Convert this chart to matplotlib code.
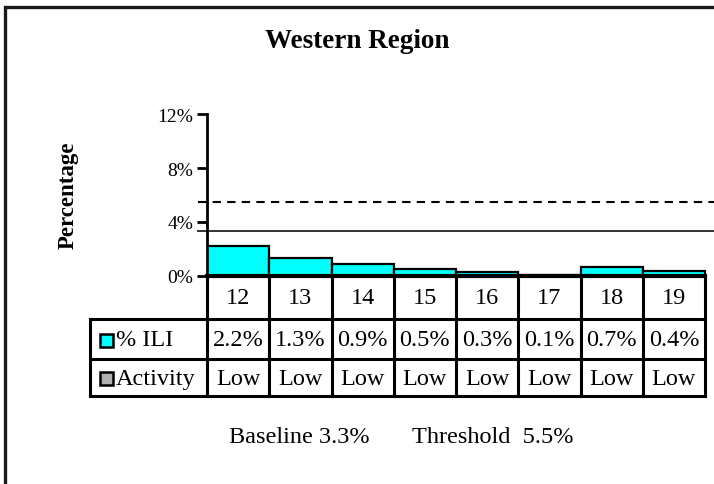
import matplotlib.pyplot as plt
from matplotlib.patches import Rectangle

# weekly influenza-like-illness percentages, Western region
weeks = ['12', '13', '14', '15', '16', '17', '18', '19']
ili = [2.2, 1.3, 0.9, 0.5, 0.3, 0.1, 0.7, 0.4]
activity = ['Low', 'Low', 'Low', 'Low', 'Low', 'Low', 'Low', 'Low']
baseline = 3.3
threshold = 5.5
yticks = [0, 4, 8, 12]

W, H = 714, 485
plt.rcParams['font.family'] = ['Liberation Serif', 'DejaVu Serif']
fig = plt.figure(figsize=(W / 100, H / 100), dpi=100)


def box(l, t, r, b):
    # pixel box -> figure fraction rect
    return [l / W, 1 - b / H, (r - l) / W, (b - t) / H]


unit = 62.25   # pixels per week column
x0 = 207       # y axis position
n = len(weeks)
xmax = (W - x0) / unit
fs = 17.5

# outer frame (only top/left visible)
ov = fig.add_axes([0, 0, 1, 1])
ov.set_xlim(0, W)
ov.set_ylim(H, 0)
ov.axis('off')
ov.plot([4.5, 4.5, W + 5], [H + 5, 7.5, 7.5], color='#1a1a1a', lw=2.4, solid_joinstyle='miter')
ov.text(W / 2, 41, 'Western Region', ha='center', va='center', fontsize=19.5, fontweight='bold')
ov.text(68, 195, 'Percentage', ha='center', va='center', rotation=90, fontsize=16.5, fontweight='bold')
ov.text(229, 438, 'Baseline %.1f%%' % baseline, ha='left', va='center', fontsize=fs)
ov.text(412, 438, 'Threshold  %.1f%%' % threshold, ha='left', va='center', fontsize=fs)

# bar chart
ax = fig.add_axes(box(x0, 115, W, 277))
ax.bar(range(n), ili, width=1, align='edge', color='#00ffff', edgecolor='black', linewidth=1.6, zorder=2)
ax.plot([-0.14, xmax], [threshold, threshold], color='black', lw=1.5, ls=(0, (4, 3)), clip_on=False)
ax.plot([-0.14, xmax], [baseline, baseline], color='#333333', lw=1.4, clip_on=False)
ax.set_xlim(0, xmax)
ax.set_ylim(0, 12)
ax.set_yticks(yticks)
ax.set_yticklabels(['%d%%' % t for t in yticks], fontsize=14)
ax.set_xticks([])
ax.tick_params(axis='y', length=7, width=2, direction='out', pad=3)
for s in ['top', 'right', 'bottom']:
    ax.spines[s].set_visible(False)
ax.spines['left'].set_linewidth(2)
ax.patch.set_alpha(0)

# data table under the bars
rows = [277, 320, 360, 397]
left = -(x0 - 90) / unit
tb = fig.add_axes(box(90, 277, W, 397))
tb.set_xlim(left, xmax)
tb.set_ylim(rows[-1], rows[0])
tb.axis('off')
lw = 2.2
tb.plot([0, n], [rows[0], rows[0]], color='black', lw=3, clip_on=False)
for y in rows[1:]:
    tb.plot([left, n], [y, y], color='black', lw=lw, clip_on=False, solid_capstyle='projecting')
for k in range(n + 1):
    tb.plot([k, k], [rows[0], rows[-1]], color='black', lw=lw, clip_on=False)
tb.plot([left, left], [rows[1], rows[-1]], color='black', lw=lw, clip_on=False)

for i in range(n):
    tb.text(i + 0.5, 299, weeks[i], ha='center', va='center', fontsize=fs)
    tb.text(i + 0.5, 341, '%.1f%%' % ili[i], ha='center', va='center', fontsize=fs)
    tb.text(i + 0.5, 380, activity[i], ha='center', va='center', fontsize=fs)

# legend keys in the row headers
px = lambda p: (p - x0) / unit
tb.add_patch(Rectangle((px(100), 348), px(113) - px(100), -13, facecolor='#00ffff',
                       edgecolor='black', lw=1.8, clip_on=False))
tb.add_patch(Rectangle((px(100), 386), px(113) - px(100), -13, facecolor='#b0b0b0',
                       edgecolor='black', lw=1.8, clip_on=False))
tb.text(px(116), 341, '% ILI', ha='left', va='center', fontsize=fs)
tb.text(px(116), 380, 'Activity', ha='left', va='center', fontsize=fs)

fig.savefig('out.png', dpi=100)
